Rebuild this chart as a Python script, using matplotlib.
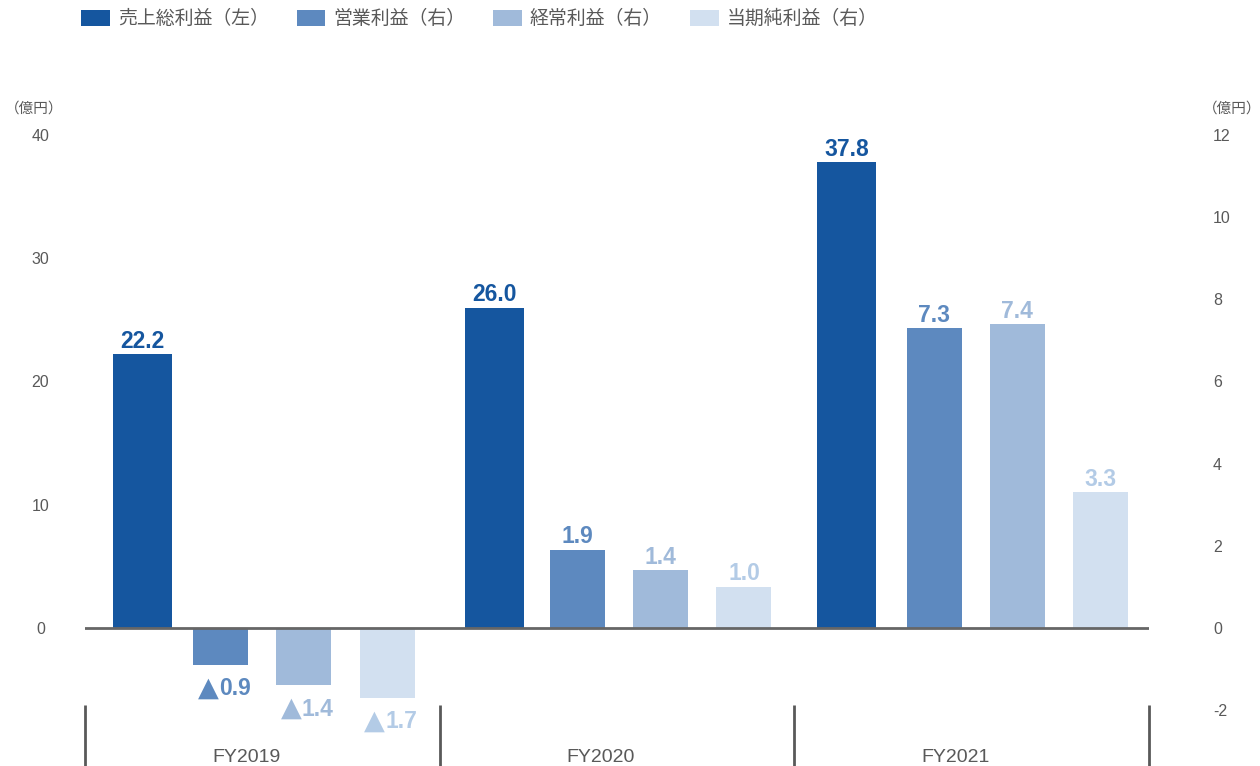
import matplotlib
matplotlib.use("Agg")
import matplotlib.pyplot as plt
from matplotlib.transforms import blended_transform_factory

plt.rcParams["font.family"] = ["Liberation Sans", "Noto Sans CJK JP", "DejaVu Sans"]
plt.rcParams["axes.unicode_minus"] = False

# ---- data (億円) ----
years = ["FY2019", "FY2020", "FY2021"]
gross_profit = [22.2, 26.0, 37.8]        # left axis
operating_profit = [-0.9, 1.9, 7.3]      # right axis
ordinary_profit = [-1.4, 1.4, 7.4]       # right axis
net_profit = [-1.7, 1.0, 3.3]            # right axis
series_names = ["売上総利益（左）", "営業利益（右）", "経常利益（右）", "当期純利益（右）"]
left_ticks = [0, 10, 20, 30, 40]
right_ticks = [-2, 0, 2, 4, 6, 8, 10, 12]
unit_label = "（億円）"

bar_colors = ["#15569f", "#5d89bf", "#a0bada", "#d2e0f0"]
label_colors = ["#15569f", "#5d89bf", "#a0bada", "#b3cbe6"]
text_gray = "#595959"

W, H = 1260, 766
fig = plt.figure(figsize=(W / 100, H / 100), dpi=100)
ax = fig.add_axes([85 / W, 1 - 710 / H, 1064 / W, 575 / H])
ax2 = ax.twinx()

ax.set_xlim(0, 3)
ax.set_ylim(-40 / 6, 40)
ax2.set_ylim(-2, 12)

# bar placement: first bar position and step between fiscal years, per series
starts = [0.163, 0.383, 0.617, 0.852]
steps = [0.992, 1.006, 1.006, 1.006]
widths = [0.166, 0.155, 0.155, 0.155]
groups = list(range(len(years)))

series = [gross_profit, operating_profit, ordinary_profit, net_profit]
axes_for = [ax, ax2, ax2, ax2]

handles = []
for k, (vals, a) in enumerate(zip(series, axes_for)):
    xs = [starts[k] + g * steps[k] for g in groups]
    bars = a.bar(xs, vals, width=widths[k], color=bar_colors[k],
                 label=series_names[k], zorder=2)
    handles.append(bars)
    for x, v in zip(xs, vals):
        if v >= 0:
            a.annotate(f"{v:.1f}", xy=(x, v), xytext=(0, 1),
                       textcoords="offset points", ha="center", va="bottom",
                       fontsize=16.5, fontweight="bold",
                       color=label_colors[k], zorder=4)
        else:
            # negative values are written with a leading triangle
            a.annotate(f"{abs(v):.1f}", xy=(x, v), xytext=(-1.5, -22),
                       textcoords="offset points", ha="left", va="baseline",
                       fontsize=16.5, fontweight="bold",
                       color=label_colors[k], zorder=4)
            a.annotate("▲", xy=(x, v), xytext=(-1.5, -22),
                       textcoords="offset points", ha="right", va="baseline",
                       fontsize=19.5, family="DejaVu Sans",
                       color=label_colors[k], zorder=4)

# zero line
ax2.axhline(0, xmin=0, xmax=1, color="#666666", lw=2, zorder=3)

for a in (ax, ax2):
    for s in a.spines.values():
        s.set_visible(False)
ax.set_xticks([])

ax.set_yticks(left_ticks)
ax.set_yticklabels([str(t) for t in left_ticks])
ax.tick_params(axis="y", length=0, pad=32, labelsize=11.5, labelcolor=text_gray)
for lbl in ax.get_yticklabels():
    lbl.set_horizontalalignment("center")

ax2.set_yticks(right_ticks)
ax2.set_yticklabels([str(t) for t in right_ticks])
ax2.tick_params(axis="y", length=0, pad=46, labelsize=11.5, labelcolor=text_gray)

# group separators and fiscal-year labels below the plot
tr = blended_transform_factory(ax.transData, fig.transFigure)
for g in range(len(years) + 1):
    ax.plot([g, g], [1 - 705 / H, 0], transform=tr, color=text_gray, lw=2,
            clip_on=False, solid_capstyle="butt")
for g, name in enumerate(years):
    ax.text(g + 0.455, 1 - 761.5 / H, name, transform=tr, ha="center",
            va="baseline", fontsize=14, color=text_gray)

# unit labels
fig.text(34 / W, 1 - 109 / H, unit_label, ha="center", va="center",
         fontsize=10.5, color=text_gray)
fig.text(1232 / W, 1 - 109 / H, unit_label, ha="center", va="center",
         fontsize=10.5, color=text_gray)

# legend
fig.legend(handles=handles, labels=series_names, loc="center left",
           bbox_to_anchor=(81 / W, 1 - 19 / H), ncol=4, frameon=False,
           fontsize=13.6, labelcolor=text_gray, handlelength=1.53,
           handleheight=0.93, handletextpad=0.41, columnspacing=1.48,
           borderpad=0, borderaxespad=0)

fig.savefig("out.png", dpi=100)
